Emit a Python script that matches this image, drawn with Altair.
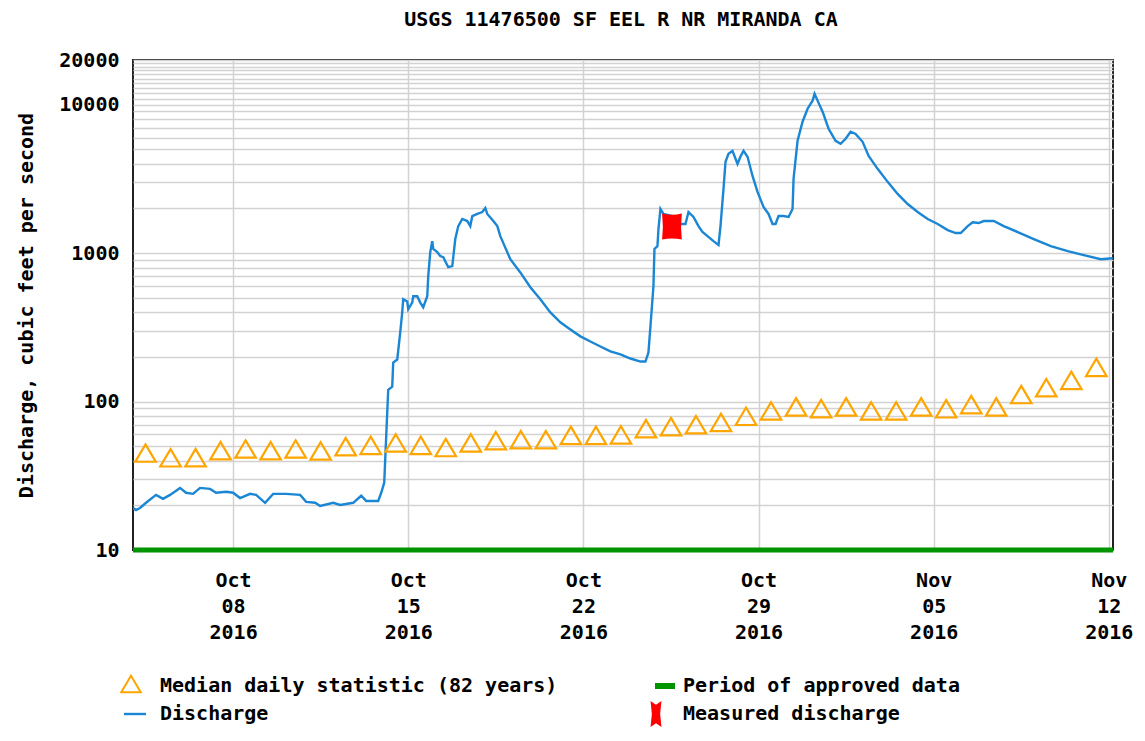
import altair as alt
import pandas as pd

# ---------------- data ----------------
START = pd.Timestamp("2016-10-04 00:00")

# discharge: days since 2016-10-04 00:00, and cubic feet per second
dis_days = [0.00, 0.12, 0.28, 0.52, 0.92, 1.20, 1.48, 1.88, 2.12, 2.40,
            2.68, 3.08, 3.32, 3.72, 4.00, 4.28, 4.68, 4.92, 5.28, 5.60,
            6.12, 6.68, 6.92, 7.28, 7.48, 8.00, 8.28, 8.80, 9.12, 9.32,
            9.80, 9.92, 10.04, 10.08, 10.20, 10.36, 10.40, 10.56, 10.68, 10.76,
            10.80, 10.96, 11.00, 11.16, 11.20, 11.36, 11.48, 11.60, 11.76, 11.80,
            11.88, 11.96, 12.00, 12.16, 12.28, 12.40, 12.60, 12.76, 12.88, 13.00,
            13.16, 13.36, 13.48, 13.56, 13.76, 13.96, 14.08, 14.16, 14.40, 14.56,
            14.68, 15.08, 15.48, 15.88, 16.28, 16.68, 17.08, 17.48, 17.88, 18.28,
            18.68, 19.08, 19.48, 19.88, 20.28, 20.48, 20.60, 20.68, 20.80, 20.84,
            20.96, 21.00, 21.08, 21.20, 21.56, 21.88, 22.08, 22.20, 22.40, 22.60,
            22.76, 22.96, 23.20, 23.40, 23.48, 23.60, 23.68, 23.80, 23.96, 24.16,
            24.28, 24.40, 24.56, 24.76, 24.96, 25.20, 25.40, 25.56, 25.68, 25.80,
            26.00, 26.20, 26.36, 26.40, 26.56, 26.76, 26.96, 27.16, 27.24, 27.36,
            27.56, 27.80, 28.08, 28.28, 28.48, 28.68, 28.88, 29.16, 29.40, 29.76,
            30.16, 30.56, 30.96, 31.36, 31.76, 32.16, 32.56, 32.88, 33.08, 33.36,
            33.56, 33.80, 34.00, 34.40, 34.80, 35.36, 36.00, 36.68, 37.36, 38.00,
            38.68, 39.16]
dis_cfs = [19.2, 18.6, 19.2, 20.8, 23.5, 22.1, 23.5, 26.2, 24.3, 23.9,
           26.2, 25.8, 24.3, 24.7, 24.3, 22.4, 23.9, 23.5, 20.8, 23.9,
           23.9, 23.5, 21.1, 20.8, 19.8, 20.8, 20.1, 20.8, 23.2, 21.4,
           21.4, 24.3, 28.4, 40.6, 120, 126, 183, 192, 292, 399,
           489, 472, 419, 464, 512, 512, 464, 432, 512, 700,
           1016, 1205, 1067, 1016, 955, 940, 804, 817, 1244, 1521,
           1698, 1645, 1521, 1778, 1836, 1892, 2015, 1836, 1645, 1521,
           1302, 910, 741, 589, 489, 399, 342, 306, 275, 254,
           235, 218, 208, 195, 186, 186, 214, 321, 598, 1067,
           1114, 1452, 1983, 1836, 1778, 1570, 1570, 1892, 1751, 1521,
           1387, 1302, 1205, 1133, 1521, 2706, 4121, 4667, 4887, 3991,
           4480, 4887, 4460, 3311, 2584, 2046, 1836, 1570, 1570, 1778,
           1778, 1751, 1983, 3162, 5713, 7675, 9396, 10646, 11860, 10646,
           8974, 6883, 5713, 5449, 5893, 6570, 6357, 5623, 4521, 3697,
           3020, 2505, 2143, 1892, 1698, 1570, 1430, 1365, 1365, 1521,
           1614, 1595, 1645, 1645, 1521, 1387, 1244, 1114, 1032, 969,
           910, 924]

# median daily statistic (82 years), one per day Oct 4 .. Nov 11 (plotted at noon)
med_cfs = [45.0, 41.8, 41.9, 46.7, 47.9, 46.7, 47.9, 46.5, 49.7, 50.7,
           52.6, 50.7, 49.0, 52.6, 54.5, 55.3, 55.3, 59.2, 59.2, 59.6,
           65.7, 67.8, 69.9, 72.3, 79.6, 86.5, 92.1, 89.7, 92.1, 86.5,
           86.5, 92.1, 89.4, 95.4, 92.1, 111.5, 124, 139, 170]

# measured discharge
meas_days = [21.54]
meas_cfs = [1510]

# period of approved data (start, end) at the bottom of the axis
approved_days = [0.0, 39.17]
approved_level = [10]

y_grid = ([10 * i for i in range(1, 10)] + [100 * i for i in range(1, 10)] +
          [1000 * i for i in range(1, 10)] + [10000 + 1000 * i for i in range(0, 11)])
y_labels = [10, 100, 1000, 10000, 20000]
x_tick_dates = [(2016, 10, 8), (2016, 10, 15), (2016, 10, 22), (2016, 10, 29),
                (2016, 11, 5), (2016, 11, 12)]

title_text = ["USGS 11476500 SF EEL R NR MIRANDA CA"]
y_title = "Discharge, cubic feet per second"
legend_labels = ["Median daily statistic (82 years)", "Discharge",
                 "Period of approved data", "Measured discharge"]

# ---------------- tables ----------------
dis = pd.DataFrame({"t": [START + pd.Timedelta(days=d) for d in dis_days], "q": dis_cfs})
med = pd.DataFrame({"t": [START + pd.Timedelta(days=k + 0.5) for k in range(len(med_cfs))],
                    "q": med_cfs})
meas = pd.DataFrame({"t": [START + pd.Timedelta(days=d) for d in meas_days], "q": meas_cfs})
appr = pd.DataFrame({"t": [START + pd.Timedelta(days=approved_days[0])],
                     "t2": [START + pd.Timedelta(days=approved_days[1])],
                     "q": approved_level})

FONT = "DejaVu Sans Mono"
FS = 20
BLUE = "#1a86d4"
ORANGE = "#ffa500"
GREEN = "#009400"
RED = "#ff0000"
TRI = "M0,-0.85 L1,0.85 L-1,0.85 Z"
BOW = "M-0.76,-1 Q0,-0.82 0.76,-1 Q0.64,0 0.76,1 Q0,0.82 -0.76,1 Q-0.64,0 -0.76,-1 Z"
BOW_LEG = "M-0.42,-1 L0,-0.72 L0.42,-1 L0.32,0 L0.42,1 L0,0.72 L-0.42,1 L-0.32,0 Z"

xscale = alt.Scale(domain=[alt.DateTime(year=2016, month=10, date=4, hours=0),
                           alt.DateTime(year=2016, month=11, date=12, hours=4)])
yscale = alt.Scale(type="log", domain=[10, 20000], nice=False)

xaxis = alt.Axis(
    values=[alt.DateTime(year=y, month=m, date=d) for (y, m, d) in x_tick_dates],
    labelExpr="[timeFormat(datum.value, '%b'), timeFormat(datum.value, '%d'), timeFormat(datum.value, '%Y')]",
    labelLineHeight=26, labelPadding=20, labelAlign="center", labelBaseline="top",
    labelOverlap=False, labelFlush=False, labelBound=False,
    grid=True, ticks=False, domain=False, title=None,
)
yaxis = alt.Axis(
    values=y_grid,
    labelExpr="indexof(" + str(y_labels) + ", datum.value) >= 0 ? format(datum.value, 'd') : ''",
    grid=True, ticks=False, domain=False, labelPadding=14,
    title=y_title, titlePadding=22, labelOverlap=False, labelBound=False, labelFlush=False,
)

line = alt.Chart(dis).mark_line(color=BLUE, strokeWidth=2.4, clip=True, interpolate="linear").encode(
    x=alt.X("t:T", scale=xscale, axis=xaxis),
    y=alt.Y("q:Q", scale=yscale, axis=yaxis),
)
median = alt.Chart(med).mark_point(shape=TRI, size=420, filled=False, color=ORANGE,
                                   strokeWidth=2.2, opacity=1).encode(
    x=alt.X("t:T", scale=xscale),
    y=alt.Y("q:Q", scale=yscale),
)
approved = alt.Chart(appr).mark_rule(color=GREEN, strokeWidth=5).encode(
    x=alt.X("t:T", scale=xscale),
    x2="t2:T",
    y=alt.Y("q:Q", scale=yscale),
)
measured = alt.Chart(meas).mark_point(shape=BOW, size=676, filled=True, color=RED,
                                      opacity=1, strokeWidth=0).encode(
    x=alt.X("t:T", scale=xscale),
    y=alt.Y("q:Q", scale=yscale),
)

# ---------------- title and legend (outside the plot area) ----------------
R1, R2 = 626, 654
C1T, C2T = 27, 550


def free_text(label, x, y, align="left"):
    return alt.Chart(pd.DataFrame({"label": [label]})).mark_text(
        font=FONT, fontSize=FS, fontWeight="bold", align=align, baseline="middle",
        color="black").encode(x=alt.value(x), y=alt.value(y), text="label:N")


leg_df = pd.DataFrame({"label": legend_labels})
leg_tri = alt.Chart(leg_df.iloc[[0]]).mark_point(shape=TRI, size=380, filled=False, color=ORANGE,
                                                 strokeWidth=2, opacity=1).encode(
    x=alt.value(-2), y=alt.value(R1 - 2))
leg_line = alt.Chart(leg_df.iloc[[1]]).mark_rule(color=BLUE, strokeWidth=2.4).encode(
    x=alt.value(-9), x2=alt.value(13), y=alt.value(R2))
leg_green = alt.Chart(leg_df.iloc[[2]]).mark_rule(color=GREEN, strokeWidth=6).encode(
    x=alt.value(522), x2=alt.value(542), y=alt.value(R1))
leg_red = alt.Chart(leg_df.iloc[[3]]).mark_point(shape=BOW_LEG, size=676, filled=True, color=RED,
                                                 opacity=1, strokeWidth=0).encode(
    x=alt.value(523), y=alt.value(R2))

chart = alt.layer(
    line, median, approved, measured,
    leg_tri, leg_line, leg_green, leg_red,
    free_text(legend_labels[0], C1T, R1), free_text(legend_labels[1], C1T, R2),
    free_text(legend_labels[2], C2T, R1), free_text(legend_labels[3], C2T, R2),
    free_text(title_text[0], 488, -40, align="center"),
).properties(
    width=980, height=490,
    padding={"left": 125, "top": 52, "right": 24, "bottom": 178},
    autosize=alt.AutoSizeParams(type="none"),
).configure_view(
    stroke="#222222", strokeWidth=2,
).configure_axis(
    labelFont=FONT, labelFontSize=FS, labelFontWeight="bold", labelColor="black",
    titleFont=FONT, titleFontSize=FS, titleFontWeight="bold", titleColor="black",
    gridColor="#d2d2d2", gridWidth=1.5, gridOpacity=1,
)

chart.save("out.html", embed_options={"renderer": "svg", "actions": False})
